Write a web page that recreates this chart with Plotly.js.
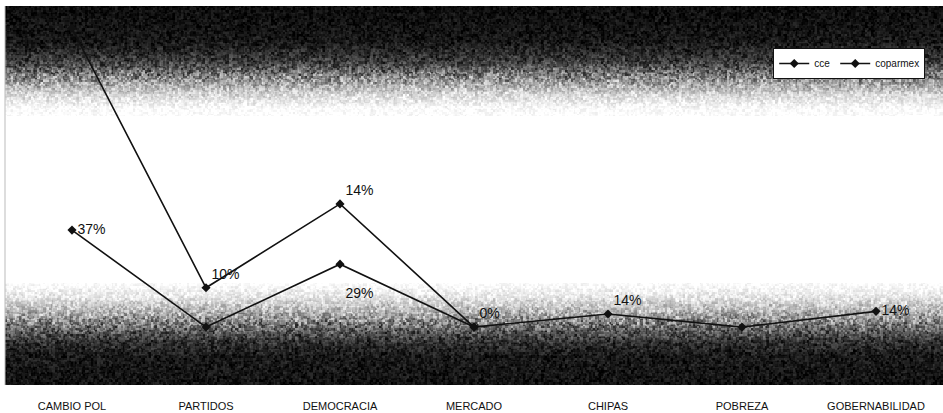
<!DOCTYPE html>
<html>
<head>
<meta charset="utf-8">
<script src="https://cdn.plot.ly/plotly-3.0.1.min.js"></script>
<style>html,body{margin:0;padding:0;background:#fff;}#chart{width:943px;height:413px;}</style>
</head>
<body>
<div id="chart"></div>
<script>
// ---- data ----
const categories = ["CAMBIO POL", "PARTIDOS", "DEMOCRACIA", "MERCADO", "CHIPAS", "POBREZA", "GOBERNABILIDAD"];
const cceValues = [37, 0, 24, 0, null, null, null];
const cceLabels = ["37%", "", "<br>29%", "", "", "", ""];
const coparmexValues = [114, 15, 47, 0, 5, 0, 6];
const coparmexLabels = ["", "10%", "14%", "0%", "14%", "", "14%"];
const seriesNames = ["cce", "coparmex"];

// ---- background texture (gradient dark-white-dark with speckle) ----
function makeBackground(w, h) {
  const c = document.createElement('canvas');
  c.width = w; c.height = h;
  const ctx = c.getContext('2d');
  const img = ctx.createImageData(w, h);
  function base(y) {
    const stops = [[0, 12], [35, 22], [55, 60], [72, 140], [88, 215], [102, 250], [112, 255], [276, 255], [290, 232], [305, 180], [320, 110], [335, 50], [350, 25], [h, 18]];
    for (let i = 0; i < stops.length - 1; i++) {
      const a = stops[i], b = stops[i + 1];
      if (y >= a[0] && y <= b[0]) {
        const t = (y - a[0]) / (b[0] - a[0]);
        return a[1] + (b[1] - a[1]) * t;
      }
    }
    return 18;
  }
  function hash(x, y) {
    const s = Math.sin(x * 12.9898 + y * 78.233) * 43758.5453;
    return s - Math.floor(s);
  }
  for (let y = 0; y < h; y++) {
    const b = base(y);
    const mid = Math.max(0, 1 - Math.abs(b - 128) / 128);
    const amp = 30 + 140 * mid;
    for (let x = 0; x < w; x++) {
      const n = (hash(Math.floor(x / 2), Math.floor(y / 2)) + hash(Math.floor((x + 1) / 3), Math.floor((y + 2) / 3))) / 2 - 0.5;
      let v = b >= 254 ? 255 : b + n * amp * 1.1;
      v = Math.max(0, Math.min(255, v));
      const k = (y * w + x) * 4;
      img.data[k] = v; img.data[k + 1] = v; img.data[k + 2] = v; img.data[k + 3] = 255;
    }
  }
  ctx.putImageData(img, 0, 0);
  return c.toDataURL('image/png');
}

const bg = makeBackground(938, 379);
const labelFont = {family: "Liberation Sans, Arial, sans-serif", size: 14, color: "#111"};

const traces = [
  {
    name: seriesNames[0], x: categories, y: cceValues, text: cceLabels,
    type: "scatter", mode: "lines+markers+text", connectgaps: false,
    line: {color: "#111", width: 1.6},
    marker: {symbol: "diamond", size: 7, color: "#111"},
    textposition: ["middle right", "top right", "bottom right", "top right", "top right", "top right", "top right"],
    textfont: labelFont, hoverinfo: "skip"
  },
  {
    name: seriesNames[1], x: categories, y: coparmexValues, text: coparmexLabels,
    type: "scatter", mode: "lines+markers+text",
    line: {color: "#111", width: 1.6},
    marker: {symbol: "diamond", size: 7, color: "#111"},
    textposition: ["top right", "top right", "top right", "top right", "top right", "top right", "middle right"],
    textfont: labelFont, hoverinfo: "skip"
  }
];

const layout = {
  width: 943, height: 413,
  margin: {l: 5, r: 0, t: 6, b: 28, pad: 0},
  paper_bgcolor: "#ffffff",
  plot_bgcolor: "rgba(0,0,0,0)",
  showlegend: true,
  legend: {
    orientation: "h", x: 0.819, y: 0.889, xanchor: "left", yanchor: "top",
    bgcolor: "#ffffff", bordercolor: "#111", borderwidth: 1,
    font: {family: "Liberation Sans, Arial, sans-serif", size: 10, color: "#111"},
    itemwidth: 30, tracegroupgap: 0
  },
  xaxis: {
    type: "category", range: [-0.5, 6.5], showgrid: false, zeroline: false, showline: false,
    ticks: "outside", ticklen: 11, tickcolor: "rgba(0,0,0,0)",
    tickfont: {family: "Liberation Sans, Arial, sans-serif", size: 11, color: "#111"}
  },
  yaxis: {
    range: [-22.1, 122.5], showgrid: false, zeroline: false, showticklabels: false, showline: false, ticks: ""
  },
  images: [{
    source: bg, xref: "paper", yref: "paper", x: 0, y: 1, sizex: 1, sizey: 1,
    xanchor: "left", yanchor: "top", sizing: "stretch", layer: "below"
  }],
  shapes: [{type: "line", xref: "paper", yref: "paper", x0: 0, x1: 0, y0: 0, y1: 1, line: {color: "#bbb", width: 1}}]
};

Plotly.newPlot("chart", traces, layout, {staticPlot: true, displayModeBar: false});
</script>
</body>
</html>
